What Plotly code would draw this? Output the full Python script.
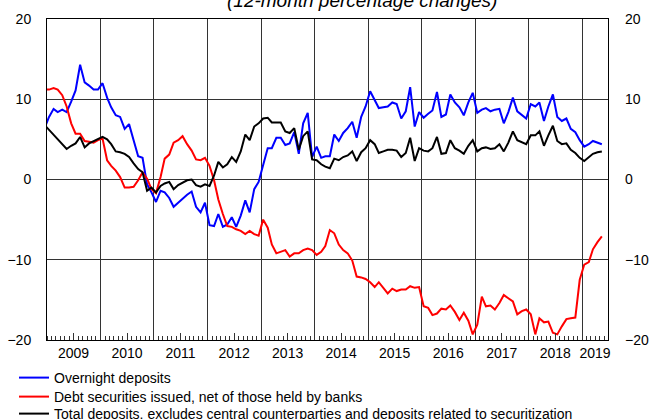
import pandas as pd
import plotly.graph_objects as go

# Monthly observations, Dec 2008 - May 2019 (mid-month)
dates = pd.date_range("2008-12-01", periods=126, freq="MS") + pd.Timedelta(days=14)

overnight = [6.4,
    7.8, 8.8, 8.4, 8.7, 8.4, 9.7, 11.1, 14.3, 12.1, 11.7, 11.2, 11.2,
    12.0, 10.2, 9.0, 8.0, 7.8, 6.3, 6.9, 4.9, 2.9, 2.7, -0.6, -1.6,
    -2.8, -1.4, -1.6, -2.3, -3.4, -2.9, -2.4, -1.9, -1.5, -3.4, -4.1, -2.9,
    -5.7, -5.8, -4.3, -5.9, -5.6, -4.7, -5.9, -4.5, -2.6, -4.1, -1.2, -0.3,
    1.8, 3.9, 3.9, 5.2, 5.2, 4.3, 4.5, 5.9, 3.2, 7.0, 8.3, 2.8,
    4.1, 2.7, 2.9, 2.9, 5.6, 4.8, 5.8, 6.4, 7.2, 5.2, 7.8, 9.1,
    11.0, 9.9, 8.9, 9.0, 9.1, 9.6, 9.4, 7.6, 8.5, 11.5, 6.6, 8.4,
    7.7, 8.2, 8.6, 10.9, 7.8, 8.1, 10.6, 9.6, 9.0, 8.0, 9.6, 10.8,
    8.3, 8.7, 8.9, 8.5, 8.7, 8.8, 7.0, 8.4, 10.2, 8.5, 8.0, 7.6,
    9.4, 9.1, 9.6, 7.3, 9.1, 10.6, 7.8, 7.3, 7.6, 6.3, 5.9, 4.9,
    4.1, 4.4, 4.8, 4.6, 4.4]

debt_securities = [11.2,
    11.2, 11.4, 11.2, 10.5, 9.1, 7.0, 5.7, 5.7, 4.8, 4.7, 4.6, 4.9,
    5.1, 2.4, 1.7, 1.1, 0.3, -1.0, -1.0, -0.9, -0.1, 0.9, 0.1, -1.2,
    -1.7, 0.3, 2.6, 3.1, 4.6, 4.9, 5.4, 4.4, 3.6, 2.5, 2.4, 2.7,
    1.7, -0.1, -2.5, -4.3, -5.8, -5.9, -6.2, -6.4, -6.8, -6.4, -6.8, -7.0,
    -5.0, -6.0, -8.1, -9.2, -9.0, -8.8, -9.6, -9.2, -9.2, -8.8, -8.6, -8.8,
    -9.4, -9.0, -8.3, -6.3, -6.7, -8.1, -8.8, -9.2, -10.1, -12.1, -12.2, -12.4,
    -12.8, -13.4, -12.8, -13.5, -14.2, -13.6, -13.9, -13.7, -13.7, -13.3, -13.5, -13.4,
    -15.8, -16.0, -16.9, -16.7, -16.1, -16.2, -15.7, -16.5, -17.5, -16.6, -17.6, -19.3,
    -18.1, -14.6, -15.8, -15.7, -16.2, -15.4, -14.4, -14.8, -15.2, -16.8, -16.4, -16.2,
    -16.8, -19.3, -17.3, -17.8, -17.7, -19.1, -19.3, -18.3, -17.4, -17.3, -17.2, -12.5,
    -10.6, -10.3, -8.7, -7.8, -7.1]

total_deposits = [6.8,
    6.2, 5.6, 5.0, 4.4, 3.8, 4.2, 4.5, 5.3, 4.0, 4.5, 4.8, 5.1,
    5.3, 5.0, 4.4, 3.5, 3.4, 3.2, 2.8, 2.0, 1.3, 0.9, -1.4, -1.0,
    -1.6, -0.8, -0.5, -0.3, -1.2, -0.7, -0.4, -0.1, 0.0, -0.7, -0.9, -0.6,
    -0.8, 0.5, 2.2, 1.5, 1.9, 2.8, 2.2, 3.5, 5.6, 4.9, 6.6, 7.0,
    7.6, 7.7, 7.1, 7.1, 7.1, 6.0, 5.8, 6.4, 3.7, 5.4, 6.0, 2.5,
    2.4, 1.9, 1.6, 1.4, 2.6, 2.4, 2.8, 3.0, 3.5, 2.3, 3.4, 3.9,
    4.9, 4.4, 3.3, 3.5, 3.7, 3.7, 3.6, 2.8, 3.3, 5.2, 2.3, 3.9,
    3.6, 3.5, 3.9, 5.3, 3.2, 3.3, 4.9, 3.9, 3.6, 3.2, 4.2, 4.9,
    3.5, 3.9, 4.0, 3.8, 3.9, 4.4, 3.5, 4.6, 6.0, 4.9, 4.6, 4.4,
    5.5, 5.5, 6.0, 4.2, 5.5, 6.7, 4.8, 4.4, 4.5, 3.7, 3.3, 2.7,
    2.3, 2.8, 3.2, 3.4, 3.5]

series_names = ["Overnight deposits",
                "Debt securities issued, net of those held by banks",
                "Total deposits, excludes central counterparties and deposits related to securitization"]
series_colors = ["#0000FF", "#FF0000", "#000000"]

year_labels = [str(y) for y in range(2009, 2020)]
year_label_pos = [f"{y}-07-01" for y in range(2009, 2019)] + ["2019-03-29"]
y_ticks = [-20, -10, 0, 10, 20]

X_RANGE = ["2009-01-01", "2019-06-26"]
FONT = "Liberation Sans, Arial, sans-serif"

# plot area geometry in px
L, R, T, B = 47, 41, 19, 79
W, H = 649, 419
pw = W - L - R
ph = H - T - B


def px_to_paper_x(px):
    return (px - L) / pw


def py_to_paper_y(py):
    return (H - B - py) / ph


fig = go.Figure()
legend_ids = ["legend", "legend2", "legend3"]
for name, vals, col, lg in zip(series_names,
                                [overnight, debt_securities, total_deposits],
                                series_colors, legend_ids):
    fig.add_trace(go.Scatter(x=dates, y=vals, mode="lines", name=name,
                             line=dict(color=col, width=2), legend=lg))

# invisible helper trace so the overlay axes (year grid, right-hand scale) render
fig.add_trace(go.Scatter(x=dates, y=total_deposits, mode="lines",
                         line=dict(color="rgba(0,0,0,0)", width=0),
                         xaxis="x2", yaxis="y2", showlegend=False,
                         hoverinfo="skip"))

legend_rows = [378, 397, 414]
leg_common = dict(font=dict(family=FONT, size=14, color="black"),
                  bgcolor="rgba(0,0,0,0)", xanchor="left", yanchor="middle",
                  x=px_to_paper_x(14), itemwidth=30)
fig.update_layout(
    legend=dict(**leg_common, y=py_to_paper_y(legend_rows[0])),
    legend2=dict(**leg_common, y=py_to_paper_y(legend_rows[1])),
    legend3=dict(**leg_common, y=py_to_paper_y(legend_rows[2])),
)

fig.update_layout(
    template="none",
    width=W, height=H,
    margin=dict(l=L, r=R, t=T, b=B, pad=0, autoexpand=False),
    paper_bgcolor="white", plot_bgcolor="white",
    font=dict(family=FONT, size=14, color="black"),
    showlegend=True,
    xaxis=dict(
        type="date", range=X_RANGE,
        tickmode="array", tickvals=year_label_pos, ticktext=year_labels,
        ticks="", ticklen=0, showgrid=False, zeroline=False,
        showline=True, mirror=True, linecolor="black", linewidth=1,
        tickfont=dict(size=14), ticklabelstandoff=0,
        minor=dict(tickmode="linear", tick0="2009-01-01", dtick="M1",
                   ticks="inside", ticklen=4, tickcolor="#333", tickwidth=1,
                   showgrid=False),
    ),
    xaxis2=dict(
        type="date", range=X_RANGE, overlaying="x", anchor="y2",
        tickmode="linear", tick0="2009-01-01", dtick="M12",
        showticklabels=False, ticks="", showgrid=True, gridcolor="#333",
        gridwidth=1, showline=False, zeroline=False,
        minor=dict(tickmode="linear", tick0="2009-01-01", dtick="M6",
                   ticks="inside", ticklen=7, tickcolor="#333", tickwidth=1,
                   showgrid=False),
    ),
    yaxis=dict(
        range=[-20, 20], tickmode="array", tickvals=y_ticks,
        ticks="", showgrid=True, gridcolor="#333", gridwidth=1,
        zeroline=False, showline=True, mirror=True, linecolor="black",
        linewidth=1, tickfont=dict(size=14), ticklabelstandoff=12,
    ),
    yaxis2=dict(
        range=[-20, 20], tickmode="array", tickvals=y_ticks,
        overlaying="y", side="right", anchor="x2",
        ticks="", showgrid=False, zeroline=False, showline=False,
        tickfont=dict(size=14), ticklabelstandoff=16,
    ),
)

fig.add_annotation(text="<i>(12-month percentage changes)</i>",
                   xref="paper", yref="paper", x=px_to_paper_x(362),
                   y=py_to_paper_y(12.5), xanchor="center", yanchor="bottom",
                   showarrow=False, font=dict(family=FONT, size=19, color="black"))

# remove the browser's default page margin so the figure sits at the top-left corner
fig.write_html("out.html", config={"displayModeBar": False},
               post_script="document.body.style.margin='0';")
